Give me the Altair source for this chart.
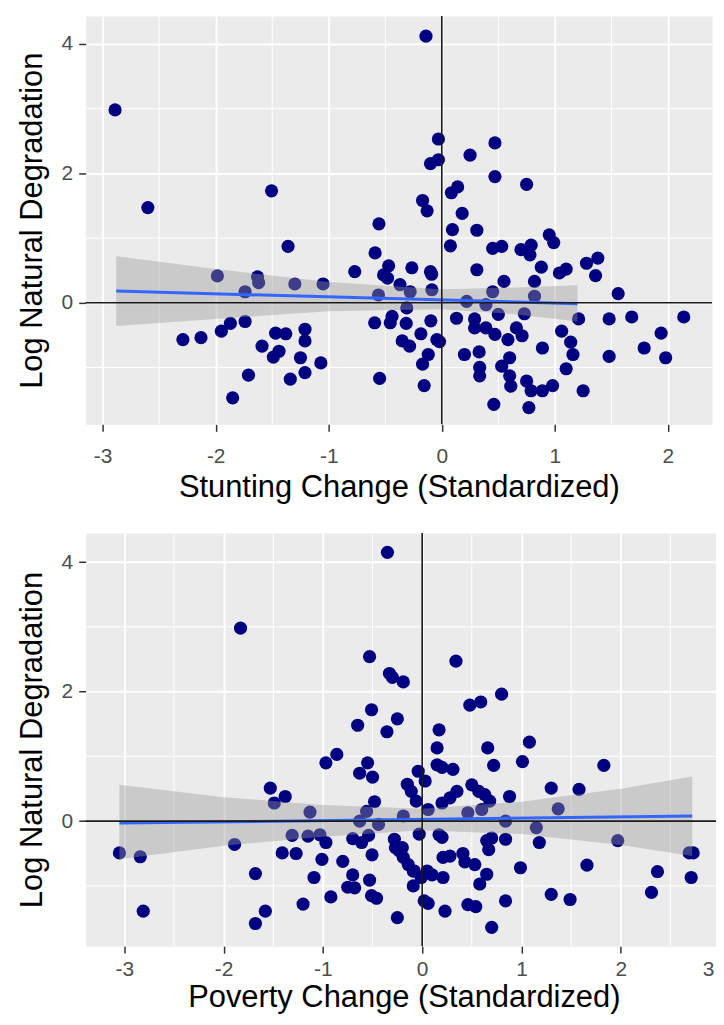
import altair as alt
import pandas as pd

# ---------------- data ----------------
# Panel 1: Stunting change vs log natural degradation
stunt_x = [-2.89, -0.14,
           -2.60, -1.506, -1.36, -0.556, -0.59, -0.77, -0.47, -0.515, -0.48, -0.265, -0.10, -0.09,
           -0.37, -0.28, -0.088, -0.56, -0.31, -1.985, -1.63, -1.62, -1.74, -1.30, -1.05, -2.29,
           -2.13, -1.95, -1.87, -1.74, -1.59, -1.47, -1.38, -1.21, -1.21, -1.49, -1.44, -1.25,
           -1.07, -1.71, -1.34, -1.21, -1.85, -0.594, -0.456, -0.44, -0.315, -0.35, -0.285, -0.185,
           -0.097, -0.044, -0.02, -0.12, -0.17, -0.55, -0.156, -0.03, -0.10, -0.03, -0.17, -0.13,
           0.47, 0.25, 0.47, 0.75, 0.085, 0.14, 0.18, 0.094, 0.31, 0.076, 0.45, 0.53, 0.70, 0.79,
           0.78, 0.95, 0.99, 0.31, 0.88, 1.04, 1.10, 1.28, 1.38, 1.36, 0.55, 0.82, 1.56, 0.45,
           0.82, 0.22, 0.39, 0.13, 0.29, 0.50, 0.73, 1.21, 1.48, 1.68, 2.14, 0.29, 0.39, 0.47,
           0.585, 0.66, 0.71, 1.06, 1.14, 1.16, 0.89, 0.20, 0.33, 0.335, 0.335, 0.53, 0.60, 0.60,
           0.61, 0.75, 0.79, 0.89, 0.98, 1.10, 1.25, 0.46, 0.77, 1.48, 1.79, 1.94, 1.98]
stunt_y = [2.98, 4.12,
           1.47, 1.73, 0.87, 1.22, 0.77, 0.48, 0.57, 0.43, 0.38, 0.54, 0.48, 0.44,
           0.28, 0.17, 0.20, 0.12, -0.08, 0.415, 0.40, 0.31, 0.17, 0.29, 0.29, -0.57,
           -0.54, -0.44, -0.32, -0.29, -0.67, -0.47, -0.48, -0.41, -0.59, -0.84, -0.75, -0.85,
           -0.93, -1.12, -1.18, -1.08, -1.47, -0.31, -0.31, -0.21, -0.32, -0.59, -0.67, -0.48,
           -0.28, -0.57, -0.60, -0.80, -0.95, -1.17, -1.28, 2.53, 2.15, 2.21, 1.58, 1.42,
           2.47, 2.28, 1.95, 1.83, 1.70, 1.79, 1.38, 1.13, 1.12, 0.88, 0.84, 0.87, 0.82, 0.89,
           0.74, 1.05, 0.93, 0.51, 0.55, 0.46, 0.52, 0.61, 0.69, 0.42, 0.33, 0.33, 0.14, 0.17,
           0.10, 0.02, -0.03, -0.24, -0.25, -0.18, -0.17, -0.25, -0.25, -0.22, -0.22, -0.39, -0.39, -0.49,
           -0.57, -0.39, -0.51, -0.44, -0.61, -0.80, -0.70, -0.80, -0.76, -1.00, -1.13, -0.98, -0.85, -1.13,
           -1.29, -1.21, -1.36, -1.36, -1.28, -1.02, -1.36, -1.57, -1.62, -0.83, -0.70, -0.47, -0.85]

stunt_band_x = [-2.88, -2.0, -1.0, 0.0, 0.6, 1.2]
stunt_band_hi = [0.72, 0.52, 0.32, 0.21, 0.23, 0.27]
stunt_band_lo = [-0.36, -0.25, -0.13, -0.10, -0.17, -0.29]
stunt_fit_x = [-2.88, 1.2]
stunt_fit_y = [0.18, -0.015]

# Panel 2: Poverty change vs log natural degradation
pov_x = [-0.35, -1.83,
         -0.53, -0.33, -0.30, -0.19, -0.51, -0.65, -0.25, -0.355, -0.97, -0.86, -0.55, -0.63,
         -0.50, -0.04, -0.15, -0.11, -0.06, -1.53, -1.38, -1.49, -0.48, -0.56, -1.13, -0.63,
         -0.44, -0.19, -1.31, -1.15, -1.03, -0.97, -0.70, -0.61, -0.54, -0.28, -0.27, -1.89,
         -3.05, -2.84, -1.41, -1.27, -1.01, -0.80, -0.505, -1.68, -1.09, -0.70, -0.53, -0.75,
         -0.68, -0.92, -0.51, -0.46, -1.20, -1.58, -1.68, -2.81, -0.25, -0.23, -0.19, -0.14,
         -0.08, -0.01, -0.09, 0.02,
         0.34, 0.48, 0.59, 0.80, 0.17, 0.15, 0.66, 1.08, 0.15, 0.20, 0.31, 0.72, 1.01, 1.83,
         0.03, 1.30, 1.58, 0.50, 0.57, 0.63, 0.68, 0.35, 0.28, 0.20, 0.88, 1.37, 0.06, 0.46,
         0.60, 0.84, 1.15, 1.18, 1.97, 0.17, 0.20, -0.03, 0.65, 0.70, 0.84, 0.67, 0.21, 0.28,
         0.41, 0.43, 0.53, 0.99, 1.66, 2.37, 2.69, 2.73, 2.71, 0.65, 0.58, 0.05, 0.10, 0.21,
         1.30, 1.49, 2.31, 0.06, 0.23, 0.46, 0.54, 0.84, 0.70, -0.20, -0.09]
pov_y = [4.15, 2.98,
         2.54, 2.28, 2.22, 2.15, 1.72, 1.48, 1.58, 1.38, 0.90, 1.03, 0.90, 0.74,
         0.68, 0.77, 0.57, 0.46, 0.31, 0.51, 0.38, 0.28, 0.30, 0.15, 0.14, 0.00,
         -0.05, 0.08, -0.22, -0.23, -0.21, -0.33, -0.27, -0.33, -0.22, -0.28, -0.41, -0.36,
         -0.49, -0.55, -0.49, -0.50, -0.59, -0.62, -0.52, -0.81, -0.87, -0.83, -0.91, -1.02,
         -1.03, -1.17, -1.15, -1.19, -1.28, -1.39, -1.58, -1.39, -1.49, -0.46, -0.56, -0.67,
         -0.77, -0.87, -1.00, -1.23,
         2.47, 1.79, 1.84, 1.96, 1.41, 1.13, 1.13, 1.22, 0.87, 0.83, 0.80, 0.86, 0.92, 0.86,
         0.62, 0.51, 0.49, 0.56, 0.46, 0.41, 0.31, 0.46, 0.36, 0.28, 0.38, 0.19, 0.18, 0.13,
         0.18, 0.00, -0.10, -0.33, -0.30, -0.21, -0.25, -0.20, -0.30, -0.26, -0.28, -0.44, -0.56, -0.54,
         -0.50, -0.63, -0.67, -0.72, -0.68, -0.78, -0.49, -0.49, -0.87, -0.82, -0.97, -0.77, -0.83, -0.87,
         -1.13, -1.21, -1.10, -1.27, -1.39, -1.29, -1.32, -1.23, -1.64, -0.41, -0.77]

pov_band_x = [-3.05, -2.0, -1.0, 0.0, 1.0, 2.0, 2.72]
pov_band_hi = [0.56, 0.37, 0.25, 0.19, 0.30, 0.50, 0.69]
pov_band_lo = [-0.59, -0.38, -0.24, -0.14, -0.20, -0.37, -0.54]
pov_fit_x = [-3.05, 2.72]
pov_fit_y = [-0.03, 0.08]

y_ticks = [0, 2, 4]
y_minor = [-1, 1, 3]
stunt_ticks = [-3, -2, -1, 0, 1, 2]
stunt_minor = [-2.5, -1.5, -0.5, 0.5, 1.5]
pov_ticks = [-3, -2, -1, 0, 1, 2, 3]
pov_minor = [-2.5, -1.5, -0.5, 0.5, 1.5, 2.5]

NAVY = "#000080"
FONT = "Liberation Sans"
HYPHEN_LABEL = "replace(datum.label, '\u2212', '-')"


def make_panel(px, py, bx, bhi, blo, fx, fy, xdom, ydom, xticks, xminor,
               w, h, xtitle, ytitle_pad, xlabel_pad, xtitle_pad, flush, flush_off):
    xs = alt.Scale(domain=xdom, nice=False, zero=False)
    ys = alt.Scale(domain=ydom, nice=False, zero=False)
    xaxis = alt.Axis(values=xticks, title=xtitle, labelPadding=xlabel_pad,
                     titlePadding=xtitle_pad, labelFlush=flush,
                     labelFlushOffset=flush_off, labelExpr=HYPHEN_LABEL)
    yaxis = alt.Axis(values=y_ticks, title="Log Natural Degradation",
                     titlePadding=ytitle_pad, labelPadding=6)

    minor_v = alt.Chart(pd.DataFrame({"x": xminor})).mark_rule(
        color="white", strokeWidth=1).encode(x=alt.X("x:Q", scale=xs, axis=xaxis))
    minor_h = alt.Chart(pd.DataFrame({"y": y_minor})).mark_rule(
        color="white", strokeWidth=1).encode(y=alt.Y("y:Q", scale=ys, axis=yaxis))
    points = alt.Chart(pd.DataFrame({"x": px, "y": py})).mark_circle(
        size=175, color=NAVY, opacity=1).encode(
        x=alt.X("x:Q", scale=xs, axis=xaxis), y=alt.Y("y:Q", scale=ys, axis=yaxis))
    band = alt.Chart(pd.DataFrame({"x": bx, "hi": bhi, "lo": blo})).mark_area(
        color="#999999", opacity=0.4).encode(
        x=alt.X("x:Q", scale=xs, axis=xaxis),
        y=alt.Y("hi:Q", scale=ys, axis=yaxis), y2="lo:Q")
    fit = alt.Chart(pd.DataFrame({"x": fx, "y": fy})).mark_line(
        color="#3366FF", strokeWidth=3).encode(
        x=alt.X("x:Q", scale=xs, axis=xaxis), y=alt.Y("y:Q", scale=ys, axis=yaxis))
    zero_v = alt.Chart(pd.DataFrame({"x": [0]})).mark_rule(
        color="#1a1a1a", strokeWidth=1.6).encode(x=alt.X("x:Q", scale=xs, axis=xaxis))
    zero_h = alt.Chart(pd.DataFrame({"y": [0]})).mark_rule(
        color="#1a1a1a", strokeWidth=1.6).encode(y=alt.Y("y:Q", scale=ys, axis=yaxis))
    return alt.layer(minor_v, minor_h, points, band, fit, zero_v, zero_h).properties(
        width=w, height=h)


top = make_panel(stunt_x, stunt_y, stunt_band_x, stunt_band_hi, stunt_band_lo,
                 stunt_fit_x, stunt_fit_y, [-3.15, 2.39], [-1.88, 4.43],
                 stunt_ticks, stunt_minor, 629, 410,
                 "Stunting Change (Standardized)", 13, 14.5, 5.5, True, 0)
bottom = make_panel(pov_x, pov_y, pov_band_x, pov_band_hi, pov_band_lo,
                    pov_fit_x, pov_fit_y, [-3.39, 3.02], [-1.93, 4.45],
                    pov_ticks, pov_minor, 639, 415,
                    "Poverty Change (Standardized)", 13, 5, 4, 3, -6)

chart = alt.vconcat(top, bottom, spacing=28).properties(
    padding={"left": 7, "top": 4, "right": -8, "bottom": -2}
).configure_view(
    fill="#EBEBEB", stroke="transparent"
).configure_axis(
    grid=True, gridColor="white", gridWidth=2,
    domain=False, tickColor="#333333", tickWidth=1.5, tickSize=7,
    labelColor="#4D4D4D", labelFontSize=21, labelFont=FONT,
    titleFont=FONT, titleFontSize=31, titleFontWeight="normal", titleColor="black"
)

chart.save("out.html", embed_options={"renderer": "svg", "actions": False})
